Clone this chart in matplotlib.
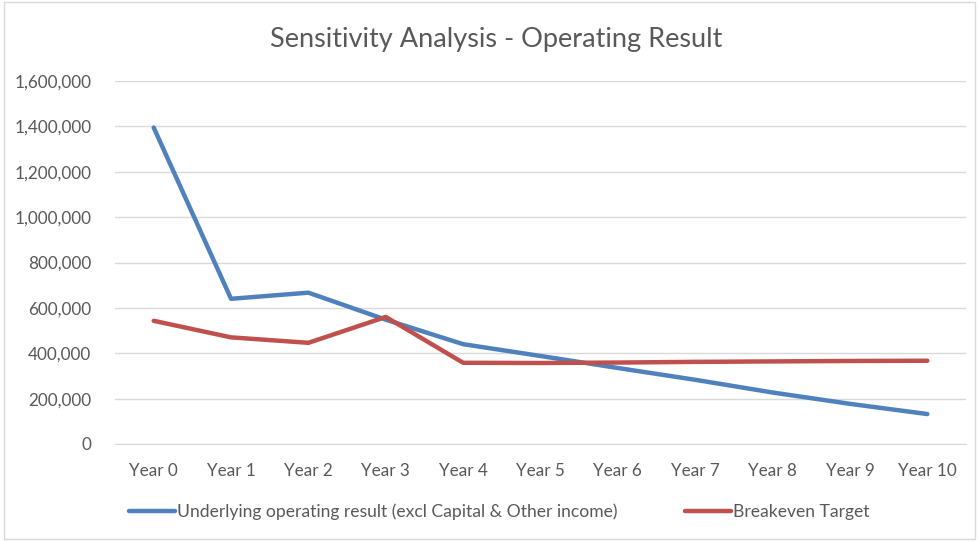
import matplotlib.pyplot as plt
from matplotlib.ticker import FuncFormatter

years = ["Year 0", "Year 1", "Year 2", "Year 3", "Year 4", "Year 5",
         "Year 6", "Year 7", "Year 8", "Year 9", "Year 10"]
underlying = [1395000, 640000, 667000, 548000, 440000, 388000,
              335000, 283000, 227000, 177000, 132000]
breakeven = [543000, 470000, 446000, 560000, 358000, 357000,
             359000, 362000, 364000, 366000, 367000]

plt.rcParams["font.family"] = ["Lato", "DejaVu Sans"]
grey = "#595959"

fig = plt.figure(figsize=(9.79, 5.41), dpi=100)
ax = fig.add_axes([115 / 979, 1 - 444 / 541, 851 / 979, 363 / 541])

x = range(len(years))
ax.plot(x, underlying, color="#4F81BD", lw=3.2, solid_capstyle="round",
        label="Underlying operating result (excl Capital & Other income)")
ax.plot(x, breakeven, color="#C0504D", lw=3.2, solid_capstyle="round",
        label="Breakeven Target")

ax.set_xlim(-0.5, len(years) - 0.5)
ax.set_ylim(0, 1600000)
ax.set_yticks(range(0, 1600001, 200000))
ax.yaxis.set_major_formatter(FuncFormatter(lambda v, p: f"{int(v):,}"))
ax.set_xticks(list(x))
ax.set_xticklabels(years)
ax.grid(axis="y", color="#D9D9D9", lw=1)
ax.set_axisbelow(True)
for s in ["top", "right", "left"]:
    ax.spines[s].set_visible(False)
ax.spines["bottom"].set_color("#D9D9D9")
ax.tick_params(axis="both", length=0, labelsize=12.3, colors=grey)
ax.tick_params(axis="y", pad=17)
ax.tick_params(axis="x", pad=14)

fig.text(0.507, 1 - 40 / 541, "Sensitivity Analysis - Operating Result",
         ha="center", va="center", fontsize=19.5, color=grey)

fig.legend(loc="center", bbox_to_anchor=(0.51, 1 - 512 / 541), ncol=2,
           frameon=False, fontsize=12.6, handlelength=2.6, handletextpad=0.1,
           columnspacing=3.9, labelcolor=grey)

# faint chart border
fig.patches.append(plt.Rectangle((0.004, 0.004), 0.992, 0.992, fill=False,
                                 edgecolor="#D9D9D9", lw=1,
                                 transform=fig.transFigure))

fig.savefig("out.png", dpi=100)
